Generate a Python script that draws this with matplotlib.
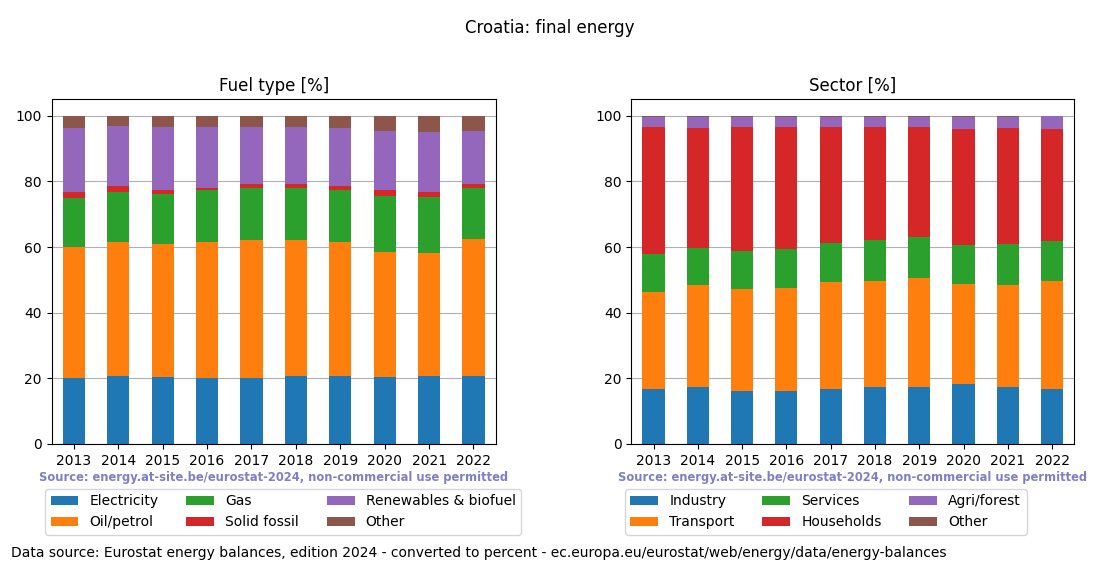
import numpy as np
import pandas as pd
from matplotlib import pyplot as plt

# years on the x axis
years = ['2013', '2014', '2015', '2016', '2017', '2018', '2019', '2020', '2021', '2022']

# fuel type shares [%]
fuel_labels = ['Electricity', 'Oil/petrol', 'Gas', 'Solid fossil',
        'Renewables & biofuel', 'Other']
electricity = [20.0, 20.7, 20.4, 20.0, 20.0, 20.7, 20.7, 20.4, 20.7, 20.7]
oil_petrol = [39.9, 40.7, 40.4, 41.4, 42.0, 41.3, 40.7, 38.0, 37.4, 41.7]
gas = [15.0, 15.3, 15.3, 15.9, 16.1, 16.1, 16.1, 17.1, 17.0, 15.5]
solid_fossil = [1.8, 1.8, 1.2, 0.8, 1.0, 1.0, 1.2, 1.8, 1.6, 1.2]
renewables = [19.5, 18.3, 19.2, 18.4, 17.4, 17.4, 17.5, 18.1, 18.4, 16.3]
fuel_other = [3.8, 3.2, 3.5, 3.5, 3.5, 3.5, 3.8, 4.6, 4.9, 4.6]

# sector shares [%]
sector_labels = ['Industry', 'Transport', 'Services', 'Households',
        'Agri/forest', 'Other']
industry = [16.7, 17.3, 16.1, 16.1, 16.7, 17.3, 17.3, 18.2, 17.3, 16.7]
transport = [29.5, 31.0, 31.0, 31.3, 32.5, 32.2, 33.2, 30.4, 31.0, 33.1]
services = [11.6, 11.4, 11.6, 11.9, 11.9, 12.5, 12.4, 11.9, 12.5, 12.2]
households = [38.6, 36.3, 37.7, 37.1, 35.3, 34.4, 33.5, 35.2, 35.2, 34.0]
agri_forest = [3.0, 3.4, 3.0, 3.1, 3.1, 3.1, 3.1, 3.7, 3.4, 4.0]
sector_other = [0.4, 0.4, 0.4, 0.4, 0.4, 0.4, 0.4, 0.4, 0.4, 0.05]

fuel_df = pd.DataFrame(dict(zip(fuel_labels, [electricity, oil_petrol, gas,
        solid_fossil, renewables, fuel_other])), index=years)
sector_df = pd.DataFrame(dict(zip(sector_labels, [industry, transport,
        services, households, agri_forest, sector_other])), index=years)
# shares are percentages: make each year add up to 100
fuel_df = fuel_df.div(fuel_df.sum(axis=1), axis=0) * 100
sector_df = sector_df.div(sector_df.sum(axis=1), axis=0) * 100

src_txt = 'Source: energy.at-site.be/eurostat-2024, non-commercial use permitted'

fig = plt.figure(figsize=(11, 5.72), dpi=100)
ax1 = fig.add_axes([0.047, 0.2238, 0.4036, 0.6026])
ax2 = fig.add_axes([0.574, 0.2238, 0.4026, 0.6026])

for ax, df, title in [(ax1, fuel_df, 'Fuel type [%]'),
        (ax2, sector_df, 'Sector [%]')]:
    df.plot(kind='bar', stacked=True, ax=ax, width=0.5, legend=False)
    ax.set_ylim(0, 105)
    ax.set_title(title, fontsize=12)
    ax.grid(True, axis='y', color='#b0b0b0')
    ax.set_axisbelow(True)
    ax.tick_params(axis='x', rotation=0)
    ax.text(0.5, -0.097, src_txt, transform=ax.transAxes, ha='center',
            va='center', fontsize=8.3, fontweight='bold', color='#7f7fc8')
    ax.legend(loc='upper left', bbox_to_anchor=(-0.015, -0.13), ncol=3,
            borderaxespad=0, fontsize=10)

fig.suptitle('Croatia: final energy', fontsize=12, y=0.967)
fig.text(0.01, 0.033, 'Data source: Eurostat energy balances, edition 2024 - '
        'converted to percent - ec.europa.eu/eurostat/web/energy/data/energy-balances',
        fontsize=10, ha='left', va='center')

plt.savefig('out.png', dpi=100)
